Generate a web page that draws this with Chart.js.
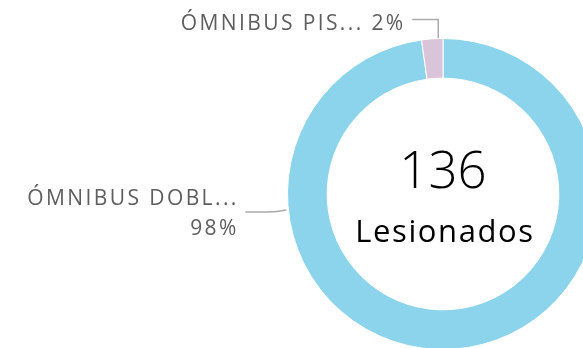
<!DOCTYPE html>
<html>
<head>
<meta charset="utf-8">
<script src="https://cdn.jsdelivr.net/npm/chart.js@4/dist/chart.umd.min.js"></script>
<style>
  html, body { margin: 0; padding: 0; background: #fff; overflow: hidden; }
  .wrap { position: absolute; left: 0; top: 0; width: 600px; height: 352px; }
</style>
</head>
<body>
<div class="wrap"><canvas id="lesionados-chart"></canvas></div>
<script>
// Lesionados por tipo de vehículo
const categories = ["ÓMNIBUS DOBLE PISO", "ÓMNIBUS PISO SIMPLE"];
const shortLabels = ["ÓMNIBUS DOBL...", "ÓMNIBUS PIS..."];
const injured = [133, 3];
const sliceColors = ["#8bd4eb", "#dac4d9"];
const centerTitle = "Lesionados";

const TEXT_FONT = "'Open Sans', sans-serif";
const LABEL_COLOR = "#5e5e5e";
const LINE_COLOR = "#aaaaaa";
const LABEL_SPACING = 2.4;

const total = injured.reduce((a, b) => a + b, 0);
const pct = injured.map((v) => Math.round((v / total) * 100));

// center text + leader-line labels
const donutText = {
  id: "donutText",
  afterDraw(chart) {
    const { ctx } = chart;
    const arcs = chart.getDatasetMeta(0).data;
    const { x: cx, y: cy, outerRadius } = arcs[0].getProps(["x", "y", "outerRadius"], true);

    ctx.save();
    ctx.fillStyle = "#000";
    ctx.textAlign = "center";
    ctx.textBaseline = "alphabetic";
    ctx.font = `300 51px ${TEXT_FONT}`;
    ctx.fillText(String(total), cx, cy - 6);
    ctx.font = `31px ${TEXT_FONT}`;
    ctx.letterSpacing = "1.6px";
    ctx.fillText(centerTitle, cx + 2, cy + 48);

    ctx.strokeStyle = LINE_COLOR;
    ctx.lineWidth = 1.5;
    ctx.fillStyle = LABEL_COLOR;
    ctx.font = `21px ${TEXT_FONT}`;
    ctx.letterSpacing = LABEL_SPACING + "px";
    ctx.textAlign = "right";

    // small slice: label above, elbow line down to the ring
    const small = arcs[1].getProps(["startAngle", "endAngle"], true);
    const midS = (small.startAngle + small.endAngle) / 2;
    const ax = cx + Math.cos(midS) * outerRadius + 6;
    const ay = cy + Math.sin(midS) * (outerRadius + 1);
    const lineY = cy - outerRadius - 19;
    ctx.beginPath();
    ctx.moveTo(ax, ay);
    ctx.lineTo(ax, lineY);
    ctx.lineTo(ax - 26, lineY);
    ctx.stroke();
    ctx.fillText(`${shortLabels[1]} ${pct[1]}%`, ax - 35 + LABEL_SPACING, lineY + 10);

    // big slice: label to the left, line to the ring edge
    const by = cy + 16;
    const bx = cx - Math.sqrt(outerRadius * outerRadius - 16 * 16) - 2;
    ctx.beginPath();
    ctx.moveTo(bx, by);
    ctx.quadraticCurveTo(bx - 10, by + 2, bx - 18, by + 2);
    ctx.lineTo(bx - 41, by + 2);
    ctx.stroke();
    ctx.fillText(shortLabels[0], bx - 50 + LABEL_SPACING, by - 5);
    ctx.fillText(`${pct[0]}%`, bx - 50 + LABEL_SPACING, by + 25);
    ctx.restore();
  },
};

new Chart(document.getElementById("lesionados-chart"), {
  type: "doughnut",
  data: {
    labels: categories,
    datasets: [{
      data: injured,
      backgroundColor: sliceColors,
      borderColor: "#ffffff",
      borderWidth: 1,
      hoverOffset: 0,
    }],
  },
  options: {
    responsive: true,
    maintainAspectRatio: false,
    animation: false,
    cutout: "74.5%",
    layout: { padding: { left: 287, top: 38, right: 1, bottom: 2 } },
    plugins: {
      legend: { display: false },
      tooltip: { enabled: false },
    },
  },
  plugins: [donutText],
});
</script>
</body>
</html>
